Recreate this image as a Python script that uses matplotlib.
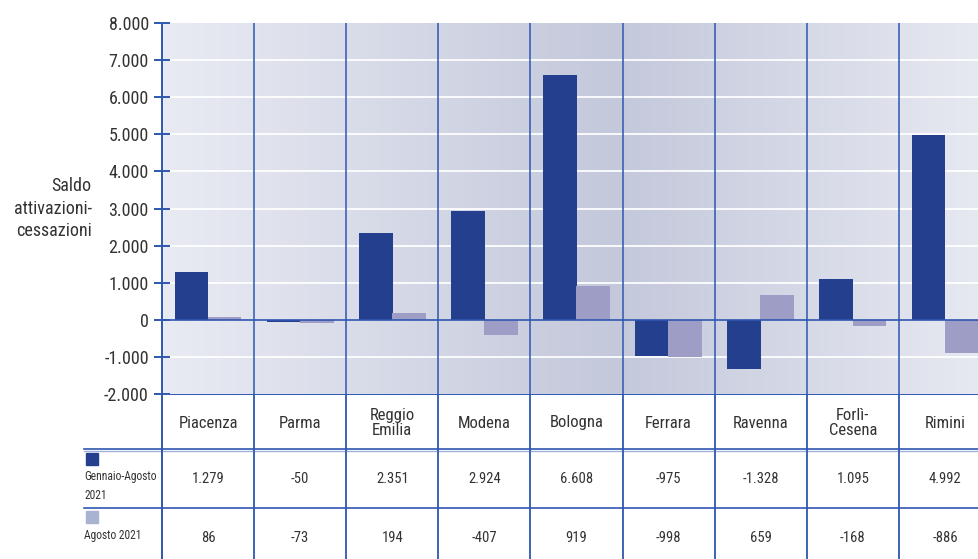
import numpy as np
import matplotlib
matplotlib.use("Agg")
import matplotlib.pyplot as plt
from matplotlib import font_manager
from matplotlib.colors import LinearSegmentedColormap
from matplotlib.patches import Rectangle

# --- data -------------------------------------------------------------
provinces = ["Piacenza", "Parma", "Reggio\nEmilia", "Modena", "Bologna",
             "Ferrara", "Ravenna", "Forlì-\nCesena", "Rimini"]
gen_ago_2021 = [1279, -50, 2351, 2924, 6608, -975, -1328, 1095, 4992]
ago_2021 = [86, -73, 194, -407, 919, -998, 659, -168, -886]
series_labels = ["Gennaio-Agosto\n2021", "Agosto 2021"]
y_ticks = [-2000, -1000, 0, 1000, 2000, 3000, 4000, 5000, 6000, 7000, 8000]

DARK = "#243f8e"
LIGHT = "#9d9dc6"
LIGHT_KEY = "#aab2d2"
BLUE = "#2f57b0"
TXT = "#333333"

names = {f.name for f in font_manager.fontManager.ttflist}
FONT = next((n for n in ["Liberation Sans Narrow", "Roboto Condensed",
                         "Roboto"] if n in names), "DejaVu Sans")
plt.rcParams["font.family"] = [FONT, "DejaVu Sans"]


def it_num(v):
    return f"{v:,}".replace(",", ".")


W, H = 979, 559
fig = plt.figure(figsize=(W / 100, H / 100), dpi=100)
left, right, top, mid = 162, 991, 23, 394
ax = fig.add_axes([left / W, (H - mid) / H, (right - left) / W, (mid - top) / H])
tax = fig.add_axes([left / W, 0, (right - left) / W, (H - mid) / H], sharex=ax)

x = np.arange(len(provinces))
ax.set_xlim(-0.5, len(provinces) - 0.5)
ax.set_ylim(-2000, 8000)

# background gradient (light at the edges, darker around Bologna)
bg = LinearSegmentedColormap.from_list(
    "bg", [(0, "#e9ebf3"), (0.55, "#c3c8db"), (1, "#e8eaf2")])
ax.imshow(np.linspace(0, 1, 256)[None, :], cmap=bg, aspect="auto",
          extent=(-0.5, len(provinces) - 0.5, -2000, 8000), zorder=0)

for t in y_ticks[1:-1]:
    if t != 0:
        ax.axhline(t, color="white", lw=1.4, alpha=0.9, zorder=1)

w = 0.365
ax.bar(x - 0.18, gen_ago_2021, width=w, color=DARK, zorder=2)
ax.bar(x + 0.18, ago_2021, width=w, color=LIGHT, zorder=2)
ax.axhline(0, color=BLUE, lw=1.2, zorder=3)

for b in np.arange(0.5, len(provinces), 1):
    ax.axvline(b, color=BLUE, lw=1.3, alpha=0.85, zorder=3)
    tax.axvline(b, color=BLUE, lw=1.3, zorder=3)

for s in ["top", "right", "bottom"]:
    ax.spines[s].set_visible(False)
ax.spines["left"].set_color(BLUE)
ax.spines["left"].set_linewidth(1.4)
ax.set_xticks([])
ax.set_yticks(y_ticks)
ax.set_yticklabels([it_num(t) for t in y_ticks])
ax.tick_params(axis="y", direction="inout", length=11, width=1.4,
               color=BLUE, labelsize=13, labelcolor=TXT, pad=4)
ax.set_ylabel("Saldo\nattivazioni-\ncessazioni", rotation=0, ha="right",
              va="center", fontsize=13, color=TXT, linespacing=1.35,
              labelpad=8)
ax.yaxis.set_label_coords(-0.085, 0.5)

# --- data table -------------------------------------------------------
tax.set_ylim(H - mid, 0)
for s in ["top", "right", "bottom"]:
    tax.spines[s].set_visible(False)
tax.spines["left"].set_color(BLUE)
tax.spines["left"].set_linewidth(1.4)
tax.tick_params(left=False, bottom=False, labelleft=False, labelbottom=False)

tax.axhline(0, color=BLUE, lw=1.4)
x_left = -0.5 - (left - 84) / ((right - left) / len(provinces))
for yl in [55, 114]:
    tax.plot([x_left, len(provinces)], [yl, yl], color=BLUE, lw=1.2,
             clip_on=False, zorder=3)
tax.plot([x_left, len(provinces)], [56.8, 56.8], color="#9fb2dc", lw=1.0,
         clip_on=False, zorder=2)

for i, name in enumerate(provinces):
    tax.text(i, 29, name, ha="center", va="center", fontsize=12,
             color=TXT, linespacing=0.95)
    tax.text(i, 85, it_num(gen_ago_2021[i]), ha="center", va="center",
             fontsize=10.5, color=TXT)
    tax.text(i, 144, it_num(ago_2021[i]), ha="center", va="center",
             fontsize=10.5, color=TXT)

sq = 12 / ((right - left) / len(provinces))
for (ytop, col, lab, ylab) in [(59, DARK, series_labels[0], 92),
                               (117, LIGHT_KEY, series_labels[1], 142)]:
    tax.add_patch(Rectangle((x_left + 0.02, ytop), sq, 12, color=col,
                            clip_on=False))
    tax.text(x_left, ylab, lab, ha="left", va="center", fontsize=8.3,
             color=TXT, linespacing=1.6, clip_on=False)

fig.savefig("out.png", dpi=100)
